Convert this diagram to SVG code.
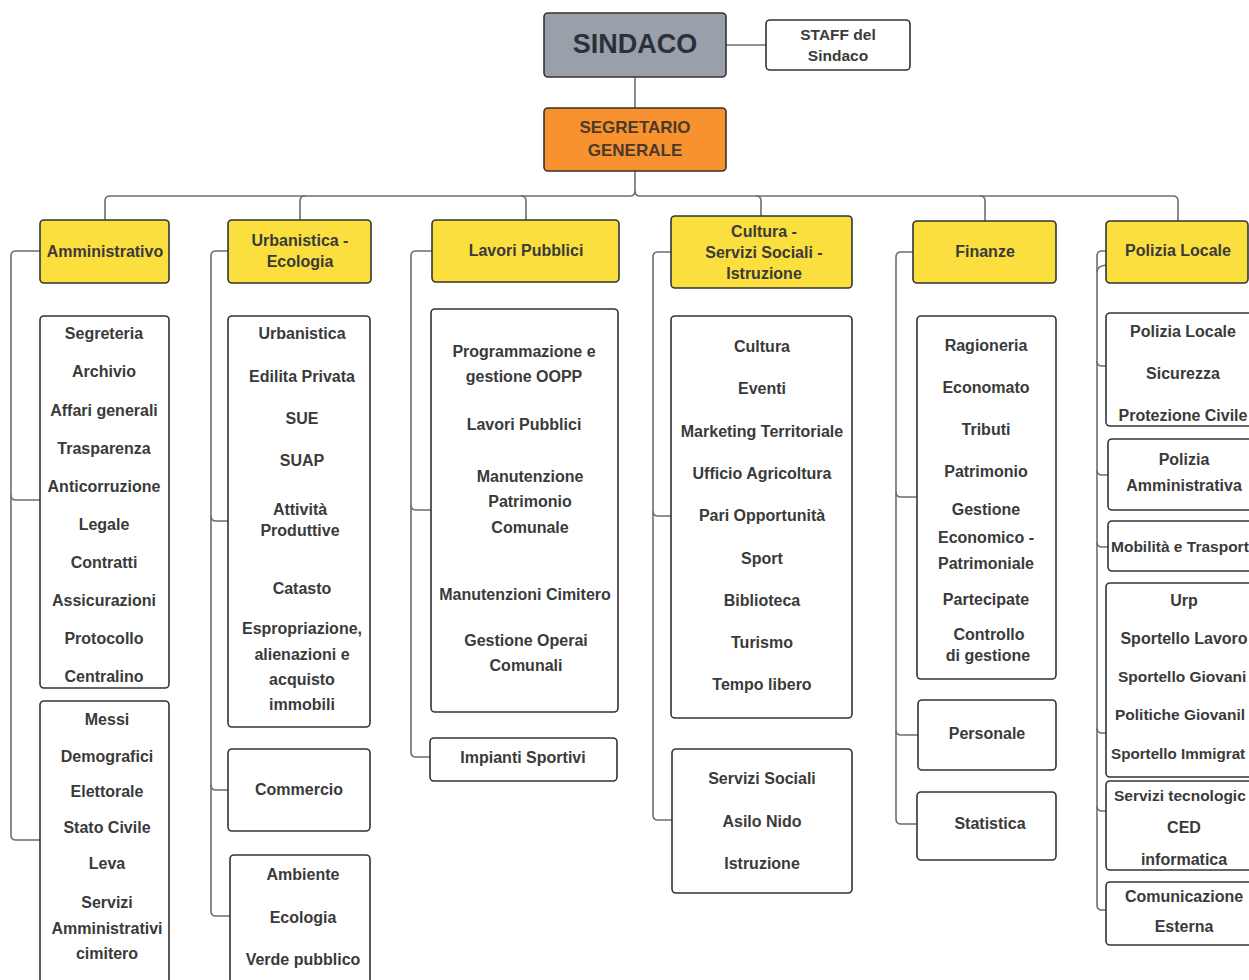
<svg xmlns="http://www.w3.org/2000/svg" width="1249" height="980" viewBox="0 0 1249 980">
<style>
.box{fill:#ffffff;stroke:#333333;stroke-width:1.6}
.dept{fill:#fbdf3f;stroke:#333333;stroke-width:1.6}
.t{font-family:"Liberation Sans",Arial,sans-serif;font-weight:bold;font-size:16px;fill:#3a3a3a;text-anchor:middle}
.ts{text-anchor:start}
.conn{fill:none;stroke:#6e6e6e;stroke-width:1.6}
</style>
<rect width="1249" height="980" fill="#ffffff"/>
<g id="connectors">
<path class="conn" d="M726 45 H766"/>
<path class="conn" d="M635 77 V108"/>
<path class="conn" d="M635 171 V191 Q635 196 630 196 H110 Q105 196 105 201 V220"/>
<path class="conn" d="M635 191 Q635 196 640 196 H1173 Q1178 196 1178 201 V221"/>
<path class="conn" d="M305 196 Q300 196 300 201 V220"/>
<path class="conn" d="M521 196 Q526 196 526 201 V220"/>
<path class="conn" d="M756 196 Q761 196 761 201 V216"/>
<path class="conn" d="M980 196 Q985 196 985 201 V221"/>
<path class="conn" d="M40 251 H16 Q11 251 11 256 V495 Q11 500 16 500 H40"/>
<path class="conn" d="M11 495 V835 Q11 840 16 840 H40"/>
<path class="conn" d="M228 251 H216 Q211 251 211 256 V911 Q211 916 216 916 H230"/>
<path class="conn" d="M211 516 Q211 521 216 521 H228"/>
<path class="conn" d="M211 785 Q211 790 216 790 H228"/>
<path class="conn" d="M432 251 H416 Q411 251 411 256 V752 Q411 757 416 757 H430"/>
<path class="conn" d="M411 505 Q411 510 416 510 H431"/>
<path class="conn" d="M671 252 H658 Q653 252 653 257 V815 Q653 820 658 820 H672"/>
<path class="conn" d="M653 511 Q653 516 658 516 H671"/>
<path class="conn" d="M913 252 H901 Q896 252 896 257 V819 Q896 824 901 824 H917"/>
<path class="conn" d="M896 492 Q896 497 901 497 H917"/>
<path class="conn" d="M896 730 Q896 735 901 735 H918"/>
<path class="conn" d="M1106 251 H1102 Q1097 251 1097 256 V905 Q1097 910 1102 910 H1106"/>
<path class="conn" d="M1106 265 Q1097 266 1097 272"/>
<path class="conn" d="M1097 361 Q1097 366 1102 366 H1106"/>
<path class="conn" d="M1097 470 Q1097 475 1102 475 H1108"/>
<path class="conn" d="M1097 542 Q1097 547 1102 547 H1108"/>
<path class="conn" d="M1097 728 Q1097 733 1102 733 H1106"/>
<path class="conn" d="M1097 806 Q1097 811 1102 811 H1106"/>
</g>
<g id="sindaco">
<rect x="544" y="13" width="182" height="64" rx="4" fill="#9aa0a9" stroke="#333333" stroke-width="1.6"/>
<text class="t" x="635" y="53" style="font-size:27px;fill:#2b313b">SINDACO</text>
</g>
<g id="staff">
<rect class="box" x="766" y="20" width="144" height="50" rx="4"/>
<text class="t" x="838" y="40" style="font-size:15.5px">STAFF del</text>
<text class="t" x="838" y="61" style="font-size:15.5px">Sindaco</text>
</g>
<g id="segretario">
<rect x="544" y="108" width="182" height="63" rx="4" fill="#f8922e" stroke="#333333" stroke-width="1.6"/>
<text class="t" x="635" y="133" style="font-size:17px;fill:#4a3a2c">SEGRETARIO</text>
<text class="t" x="635" y="156" style="font-size:17px;fill:#4a3a2c">GENERALE</text>
</g>
<g id="dept-amministrativo">
<rect class="dept" x="40" y="220" width="129" height="63" rx="4"/>
<text class="t" x="105" y="257">Amministrativo</text>
</g>
<g id="dept-urbanistica">
<rect class="dept" x="228" y="220" width="143" height="63" rx="4"/>
<text class="t" x="300" y="246">Urbanistica -</text>
<text class="t" x="300" y="267">Ecologia</text>
</g>
<g id="dept-lavori">
<rect class="dept" x="432" y="220" width="187" height="62" rx="4"/>
<text class="t" x="526" y="256">Lavori Pubblici</text>
</g>
<g id="dept-cultura">
<rect class="dept" x="671" y="216" width="181" height="72" rx="4"/>
<text class="t" x="764" y="237">Cultura -</text>
<text class="t" x="764" y="258">Servizi Sociali -</text>
<text class="t" x="764" y="279">Istruzione</text>
</g>
<g id="dept-finanze">
<rect class="dept" x="913" y="221" width="143" height="62" rx="4"/>
<text class="t" x="985" y="257">Finanze</text>
</g>
<g id="dept-polizia">
<rect class="dept" x="1106" y="221" width="142" height="62" rx="4"/>
<text class="t" x="1178" y="256">Polizia Locale</text>
</g>
<g id="amm-1">
<rect class="box" x="40" y="316" width="129" height="372" rx="4"/>
<text class="t" x="104" y="339">Segreteria</text>
<text class="t" x="104" y="377">Archivio</text>
<text class="t" x="104" y="416">Affari generali</text>
<text class="t" x="104" y="454">Trasparenza</text>
<text class="t" x="104" y="492">Anticorruzione</text>
<text class="t" x="104" y="530">Legale</text>
<text class="t" x="104" y="568">Contratti</text>
<text class="t" x="104" y="606">Assicurazioni</text>
<text class="t" x="104" y="644">Protocollo</text>
<text class="t" x="104" y="682">Centralino</text>
</g>
<g id="amm-2">
<rect class="box" x="40" y="701" width="129" height="300" rx="4"/>
<text class="t" x="107" y="725">Messi</text>
<text class="t" x="107" y="762">Demografici</text>
<text class="t" x="107" y="797">Elettorale</text>
<text class="t" x="107" y="833">Stato Civile</text>
<text class="t" x="107" y="869">Leva</text>
<text class="t" x="107" y="908">Servizi</text>
<text class="t" x="107" y="934">Amministrativi</text>
<text class="t" x="107" y="959">cimitero</text>
</g>
<g id="urb-1">
<rect class="box" x="228" y="316" width="142" height="411" rx="4"/>
<text class="t" x="302" y="339">Urbanistica</text>
<text class="t" x="302" y="382">Edilita Privata</text>
<text class="t" x="302" y="424">SUE</text>
<text class="t" x="302" y="466">SUAP</text>
<text class="t" x="300" y="515">Attività</text>
<text class="t" x="300" y="536">Produttive</text>
<text class="t" x="302" y="594">Catasto</text>
<text class="t" x="302" y="634">Espropriazione,</text>
<text class="t" x="302" y="660">alienazioni e</text>
<text class="t" x="302" y="685">acquisto</text>
<text class="t" x="302" y="710">immobili</text>
</g>
<g id="urb-2">
<rect class="box" x="228" y="749" width="142" height="82" rx="4"/>
<text class="t" x="299" y="795">Commercio</text>
</g>
<g id="urb-3">
<rect class="box" x="230" y="855" width="140" height="150" rx="4"/>
<text class="t" x="303" y="880">Ambiente</text>
<text class="t" x="303" y="923">Ecologia</text>
<text class="t" x="303" y="965">Verde pubblico</text>
</g>
<g id="lav-1">
<rect class="box" x="431" y="309" width="187" height="403" rx="4"/>
<text class="t" x="524" y="357">Programmazione e</text>
<text class="t" x="524" y="382">gestione OOPP</text>
<text class="t" x="524" y="430">Lavori Pubblici</text>
<text class="t" x="530" y="482">Manutenzione</text>
<text class="t" x="530" y="507">Patrimonio</text>
<text class="t" x="530" y="533">Comunale</text>
<text class="t" x="525" y="600">Manutenzioni Cimitero</text>
<text class="t" x="526" y="646">Gestione Operai</text>
<text class="t" x="526" y="671">Comunali</text>
</g>
<g id="lav-2">
<rect class="box" x="430" y="738" width="187" height="43" rx="4"/>
<text class="t" x="523" y="763">Impianti Sportivi</text>
</g>
<g id="cul-1">
<rect class="box" x="671" y="316" width="181" height="402" rx="4"/>
<text class="t" x="762" y="352">Cultura</text>
<text class="t" x="762" y="394">Eventi</text>
<text class="t" x="762" y="437">Marketing Territoriale</text>
<text class="t" x="762" y="479">Ufficio Agricoltura</text>
<text class="t" x="762" y="521">Pari Opportunità</text>
<text class="t" x="762" y="564">Sport</text>
<text class="t" x="762" y="606">Biblioteca</text>
<text class="t" x="762" y="648">Turismo</text>
<text class="t" x="762" y="690">Tempo libero</text>
</g>
<g id="cul-2">
<rect class="box" x="672" y="749" width="180" height="144" rx="4"/>
<text class="t" x="762" y="784">Servizi Sociali</text>
<text class="t" x="762" y="827">Asilo Nido</text>
<text class="t" x="762" y="869">Istruzione</text>
</g>
<g id="fin-1">
<rect class="box" x="917" y="316" width="139" height="363" rx="4"/>
<text class="t" x="986" y="351">Ragioneria</text>
<text class="t" x="986" y="393">Economato</text>
<text class="t" x="986" y="435">Tributi</text>
<text class="t" x="986" y="477">Patrimonio</text>
<text class="t" x="986" y="515">Gestione</text>
<text class="t" x="986" y="543">Economico -</text>
<text class="t" x="986" y="569">Patrimoniale</text>
<text class="t" x="986" y="605">Partecipate</text>
<text class="t" x="989" y="640">Controllo</text>
<text class="t" x="988" y="661">di gestione</text>
</g>
<g id="fin-2">
<rect class="box" x="918" y="700" width="138" height="70" rx="4"/>
<text class="t" x="987" y="739">Personale</text>
</g>
<g id="fin-3">
<rect class="box" x="917" y="792" width="139" height="68" rx="4"/>
<text class="t" x="990" y="829">Statistica</text>
</g>
<g id="pol-1">
<rect class="box" x="1106" y="313" width="156" height="113" rx="4"/>
<text class="t" x="1183" y="337">Polizia Locale</text>
<text class="t" x="1183" y="379">Sicurezza</text>
<text class="t" x="1183" y="421">Protezione Civile</text>
</g>
<g id="pol-2">
<rect class="box" x="1108" y="439" width="154" height="71" rx="4"/>
<text class="t" x="1184" y="465">Polizia</text>
<text class="t" x="1184" y="491">Amministrativa</text>
</g>
<g id="pol-3">
<rect class="box" x="1108" y="521" width="154" height="50" rx="4"/>
<text class="t ts" x="1111" y="552" style="font-size:15.5px">Mobilità e Trasport</text>
</g>
<g id="pol-4">
<rect class="box" x="1106" y="583" width="156" height="194" rx="4"/>
<text class="t" x="1184" y="606">Urp</text>
<text class="t" x="1184" y="644">Sportello Lavoro</text>
<text class="t ts" x="1118" y="682" style="font-size:15.5px">Sportello Giovani</text>
<text class="t ts" x="1115" y="720" style="font-size:15.5px">Politiche Giovanil</text>
<text class="t ts" x="1111" y="759" style="font-size:15.2px">Sportello Immigrat</text>
</g>
<g id="pol-5">
<rect class="box" x="1106" y="781" width="156" height="89" rx="4"/>
<text class="t ts" x="1114" y="801" style="font-size:15.5px">Servizi tecnologic</text>
<text class="t" x="1184" y="833">CED</text>
<text class="t" x="1184" y="865">informatica</text>
</g>
<g id="pol-6">
<rect class="box" x="1106" y="882" width="156" height="63" rx="4"/>
<text class="t" x="1184" y="902">Comunicazione</text>
<text class="t" x="1184" y="932">Esterna</text>
</g>
</svg>
